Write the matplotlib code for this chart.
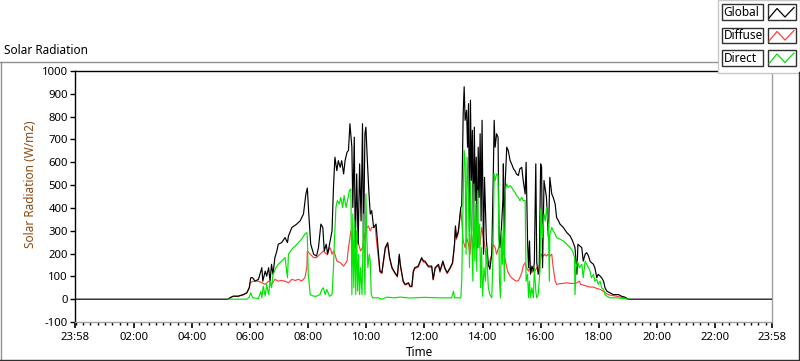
import matplotlib
matplotlib.use("Agg")
import matplotlib.pyplot as plt
from matplotlib.lines import Line2D
from matplotlib.patches import Rectangle
import numpy as np

plt.rcParams['font.family'] = ['Noto Sans', 'DejaVu Sans']

# ---------------- data (time in minutes after midnight, W/m2) ----------------
global_min = [-2, 314, 320, 325, 335, 346, 353, 358, 361, 365, 370, 377, 384, 386, 391, 394, 398, 401, 404, 407,
              411, 415, 418, 425, 432, 437, 439, 446, 456, 463, 470, 475, 478, 481, 485, 491, 497, 501, 506, 510,
              513, 517, 520, 525, 529, 532, 535, 539, 542, 546, 549, 553, 556, 560, 563, 566, 570, 572, 575, 577,
              580, 583, 586, 589, 592, 594, 597, 599, 602, 605, 608, 611, 615, 620, 625, 628, 632, 639, 644, 648,
              653, 659, 664, 668, 670, 676, 680, 687, 690, 694, 697, 700, 707, 714, 718, 721, 728, 735, 738, 742,
              749, 752, 758, 762, 767, 773, 778, 782, 784, 786, 790, 795, 797, 800, 802, 804, 807, 809, 811, 813,
              815, 817, 819, 821, 823, 825, 827, 829, 831, 833, 835, 837, 839, 842, 844, 846, 848, 852, 855, 859,
              862, 864, 866, 869, 872, 874, 876, 879, 882, 883, 885, 887, 890, 893, 897, 900, 904, 907, 910, 914,
              917, 921, 924, 928, 930, 933, 935, 937, 939, 942, 945, 947, 950, 952, 955, 957, 960, 962, 964, 967,
              970, 972, 976, 979, 983, 986, 990, 993, 997, 1000, 1007, 1014, 1021, 1026, 1031, 1035, 1037, 1041, 1045, 1048,
              1052, 1055, 1059, 1062, 1065, 1069, 1072, 1076, 1079, 1083, 1086, 1090, 1093, 1097, 1103, 1110, 1121, 1127, 1134, 1141,
              1438]
global_val = [0, 0, 8, 13, 13, 20, 28, 50, 94, 94, 79, 87, 138, 79, 123, 101, 138, 79, 153, 109,
              182, 211, 241, 248, 270, 248, 277, 314, 329, 343, 373, 461, 487, 373, 241, 197, 189, 226, 329, 314,
              211, 241, 197, 255, 299, 490, 622, 563, 607, 578, 607, 549, 607, 644, 652, 769, 666, 402, 710, 226,
              549, 241, 593, 343, 769, 226, 725, 754, 607, 476, 373, 388, 314, 329, 197, 123, 116, 226, 248, 182,
              138, 116, 101, 197, 153, 79, 65, 72, 57, 57, 123, 138, 145, 182, 167, 167, 145, 145, 87, 138,
              153, 123, 167, 138, 116, 138, 160, 241, 321, 270, 299, 402, 410, 813, 931, 784, 828, 666, 857, 299,
              872, 520, 740, 299, 754, 432, 622, 226, 666, 446, 725, 343, 784, 197, 534, 402, 255, 153, 131, 197,
              520, 784, 666, 725, 710, 285, 226, 314, 432, 593, 241, 520, 666, 652, 607, 593, 571, 563, 549, 542,
              571, 578, 520, 461, 600, 255, 138, 255, 109, 145, 123, 160, 593, 160, 109, 123, 593, 578, 138, 520,
              476, 446, 270, 534, 461, 446, 417, 358, 343, 329, 314, 292, 277, 255, 226, 109, 241, 233, 226, 167,
              197, 204, 189, 167, 160, 153, 138, 94, 109, 101, 94, 79, 50, 35, 28, 20, 20, 13, 9, 0,
              0]

diffuse_min = [314, 320, 325, 335, 346, 353, 358, 360, 367, 377, 384, 391, 398, 404, 411, 418, 425, 432, 439,
               446, 453, 460, 466, 473, 477, 478, 484, 491, 497, 504, 511, 518, 525, 529, 532, 535, 539, 546, 553,
               560, 563, 568, 572, 575, 579, 584, 588, 592, 597, 601, 604, 608, 611, 615, 618, 621, 628, 632, 639,
               644, 648, 653, 659, 664, 668, 670, 676, 680, 687, 690, 694, 697, 700, 707, 714, 718, 721, 728, 735,
               738, 742, 749, 752, 758, 762, 767, 773, 778, 782, 784, 786, 790, 795, 797, 800, 804, 807, 811, 814,
               817, 821, 824, 828, 831, 835, 838, 842, 845, 848, 852, 855, 859, 862, 866, 869, 873, 876, 879, 883,
               886, 890, 893, 897, 900, 904, 907, 910, 914, 917, 921, 924, 928, 931, 935, 938, 942, 945, 948, 952,
               955, 959, 962, 966, 969, 972, 976, 979, 983, 986, 990, 993, 1000, 1007, 1014, 1021, 1028, 1035, 1040, 1043,
               1048, 1055, 1062, 1069, 1076, 1083, 1090, 1097, 1103, 1117, 1131, 1141]
diffuse_val = [0, 8, 13, 13, 20, 28, 50, 72, 79, 79, 72, 65, 79, 65, 87, 79, 82, 79, 72,
               87, 82, 87, 79, 94, 138, 211, 197, 182, 182, 197, 211, 197, 226, 197, 211, 197, 167, 160, 145,
               167, 226, 299, 255, 226, 270, 241, 211, 226, 285, 314, 321, 299, 314, 314, 321, 255, 120, 112, 220,
               240, 178, 134, 112, 97, 190, 148, 76, 62, 69, 54, 54, 118, 134, 140, 176, 162, 162, 140, 140,
               84, 134, 148, 118, 160, 134, 112, 134, 155, 234, 312, 262, 290, 395, 343, 255, 226, 270, 241, 197,
               285, 226, 255, 226, 270, 241, 314, 270, 226, 167, 145, 167, 197, 241, 226, 197, 226, 241, 270, 241,
               182, 138, 116, 101, 94, 87, 82, 79, 82, 94, 116, 145, 160, 138, 123, 138, 116, 131, 123, 138,
               123, 167, 197, 189, 197, 189, 197, 189, 197, 138, 79, 65, 68, 69, 72, 69, 69, 72, 79, 65,
               62, 57, 53, 53, 47, 43, 35, 23, 18, 13, 6, 0]

direct_min = [314, 353, 358, 361, 365, 377, 382, 384, 387, 391, 394, 398, 401, 404, 407, 409, 413, 418, 425, 432,
              437, 439, 446, 453, 460, 466, 473, 477, 478, 480, 484, 491, 497, 504, 508, 511, 515, 518, 524, 529,
              532, 534, 537, 540, 544, 547, 551, 554, 558, 561, 565, 568, 570, 572, 574, 576, 578, 580, 582, 584,
              586, 588, 591, 594, 597, 599, 601, 603, 606, 608, 610, 613, 625, 632, 642, 656, 670, 690, 720, 750,
              776, 780, 782, 795, 797, 799, 802, 804, 806, 808, 811, 813, 815, 817, 820, 822, 824, 826, 828, 830,
              832, 834, 836, 838, 840, 843, 846, 848, 852, 855, 859, 861, 864, 866, 869, 872, 875, 877, 879, 881,
              883, 885, 887, 890, 893, 897, 900, 904, 907, 910, 914, 917, 921, 924, 928, 930, 933, 935, 937, 939,
              942, 945, 947, 950, 952, 955, 959, 960, 962, 964, 967, 970, 972, 976, 978, 979, 983, 986, 990, 993,
              1000, 1007, 1014, 1021, 1026, 1030, 1031, 1033, 1036, 1040, 1045, 1048, 1052, 1055, 1059, 1062, 1065, 1069, 1072, 1076,
              1079, 1083, 1086, 1090, 1093, 1097, 1103, 1117, 1131, 1141]
direct_val = [0, 0, 9, 28, 6, 3, 35, 6, 57, 13, 65, 20, 79, 50, 109, 116, 138, 153, 167, 182,
              94, 197, 219, 233, 248, 263, 285, 292, 270, 109, 20, 13, 13, 20, 43, 50, 20, 43, 13, 20,
              138, 255, 402, 432, 417, 446, 402, 454, 402, 432, 476, 483, 20, 373, 50, 343, 20, 299, 35, 197,
              20, 138, 20, 373, 20, 461, 270, 138, 197, 167, 20, 6, 6, 0, 9, 6, 9, 5, 8, 6,
              6, 35, 6, 6, 79, 343, 652, 593, 197, 622, 446, 138, 520, 329, 79, 505, 167, 417, 123, 476,
              226, 329, 50, 226, 13, 138, 79, 226, 50, 20, 6, 138, 549, 520, 549, 542, 79, 6, 299, 153,
              329, 79, 476, 505, 490, 498, 490, 476, 468, 454, 446, 432, 446, 432, 432, 79, 109, 6, 79, 6,
              50, 6, 138, 35, 6, 20, 138, 395, 373, 270, 373, 343, 402, 329, 79, 285, 314, 299, 285, 270,
              263, 255, 241, 226, 211, 182, 20, 138, 167, 138, 153, 94, 167, 153, 138, 123, 94, 109, 79, 87,
              65, 79, 50, 43, 20, 13, 6, 6, 3, 0]

series_names = ["Global", "Diffuse", "Direct"]
series_colors = ["#000000", "#ff4040", "#00e600"]

major_tick_min = [-2, 120, 240, 360, 480, 600, 720, 840, 960, 1080, 1200, 1320, 1438]
major_tick_lbl = ["23:58", "02:00", "04:00", "06:00", "08:00", "10:00", "12:00",
                  "14:00", "16:00", "18:00", "20:00", "22:00", "23:58"]
y_ticks = [-100, 0, 100, 200, 300, 400, 500, 600, 700, 800, 900, 1000]

# ---------------- figure ----------------
W, H = 800, 361
fig = plt.figure(figsize=(W / 100, H / 100), dpi=100)
fig.patch.set_facecolor("white")


def fx(x):
    return x / W


def fy(y):
    return 1 - y / H


ax = fig.add_axes([fx(75), fy(322), fx(772) - fx(75), fy(71) - fy(322)])
ax.set_facecolor("white")

LW = 0.85
ax.plot(diffuse_min, diffuse_val, color=series_colors[1], lw=LW, zorder=2)
ax.plot(global_min, global_val, color=series_colors[0], lw=LW, zorder=3)
ax.plot(direct_min, direct_val, color=series_colors[2], lw=LW, zorder=4)

ax.set_xlim(-2, 1438)
ax.set_ylim(-100, 1000)
ax.set_xticks(major_tick_min)
ax.set_xticklabels(major_tick_lbl)
minor = [m for m in range(0, 1440, 15) if m not in major_tick_min]
ax.set_xticks(minor, minor=True)
ax.set_yticks(y_ticks)
ax.set_yticklabels([str(v) for v in y_ticks])

ax.tick_params(axis='x', which='major', length=4.5, width=1.2, direction='out', labelsize=8.2, pad=2.5, color='black')
ax.tick_params(axis='x', which='minor', length=2.5, width=1.0, direction='out', color='black')
ax.tick_params(axis='y', which='major', length=3.5, width=1.0, direction='out', labelsize=8.2, pad=1.5, color='black')

for s in ['left', 'top']:
    ax.spines[s].set_color('black')
    ax.spines[s].set_linewidth(1.0)
for s in ['right', 'bottom']:
    ax.spines[s].set_color('#a0a0a0')
    ax.spines[s].set_linewidth(1.0)

# axis labels
fig.text(fx(419), fy(353), "Time", ha='center', va='center', fontsize=8.5, color='black')
fig.text(fx(31), fy(184), "Solar Radiation (W/m2)", ha='center', va='center', rotation=90,
         fontsize=8.5, color='#8a4a10')
fig.text(fx(4), fy(50), "Solar Radiation", ha='left', va='center', fontsize=8.5, color='black')

# outer frame
fig.add_artist(Line2D([fx(0), fx(717)], [fy(61.5), fy(61.5)], color='#909090', lw=1.0))
fig.add_artist(Line2D([fx(0.5), fx(0.5)], [fy(61.5), fy(360)], color='#909090', lw=1.0))
fig.add_artist(Line2D([fx(0), fx(799.5)], [fy(359.5), fy(359.5)], color='#303030', lw=1.0))
fig.add_artist(Line2D([fx(799.3), fx(799.3)], [fy(72), fy(360)], color='#303030', lw=1.0))

# legend panel
fig.add_artist(Rectangle((fx(717.5), fy(72.5)), fx(799.5) - fx(717.5), fy(0) - fy(72.5),
                         transform=fig.transFigure, facecolor='white', edgecolor='#c8c8c8', lw=1.0))
row_tops = [4.5, 27.5, 50]
for name, col, top in zip(series_names, series_colors, row_tops):
    h = 15.5
    fig.add_artist(Rectangle((fx(721.5), fy(top + h)), fx(762.5) - fx(721.5), fy(top) - fy(top + h),
                             transform=fig.transFigure, facecolor='white', edgecolor='#303030', lw=1.0))
    fig.text(fx(723.5), fy(top + h / 2 + 0.5), name, ha='left', va='center', fontsize=8.5, color='black')
    fig.add_artist(Rectangle((fx(767.5), fy(top + h)), fx(795.5) - fx(767.5), fy(top) - fy(top + h),
                             transform=fig.transFigure, facecolor='white', edgecolor='#303030', lw=1.0))
    zx = [769, 777, 785, 794]
    zy = [top + 13.5, top + 4, top + 12.5, top + 3]
    fig.add_artist(Line2D([fx(v) for v in zx], [fy(v) for v in zy], color=col, lw=0.9))

fig.savefig("out.png", dpi=100)
